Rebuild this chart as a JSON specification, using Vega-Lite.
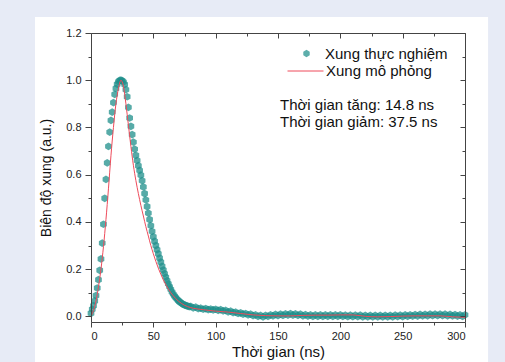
{
  "$schema": "https://vega.github.io/schema/vega-lite/v6.json",
  "width": 374,
  "height": 289,
  "autosize": {"type": "none"},
  "padding": {"left": 91, "top": 33, "right": 40, "bottom": 40},
  "background": "#e7ebf6",
  "config": {
    "view": {"stroke": null},
    "font": "Liberation Sans",
    "axis": {"grid": false, "domainColor": "#444", "tickColor": "#444", "labelColor": "#222", "labelFont": "Liberation Sans", "titleFont": "Liberation Sans", "titleColor": "#111", "titleFontWeight": "normal", "labelFontSize": 11}
  },
  "datasets": {
    "exp": [
      {"t":0,"v":0.013},{"t":1,"v":0.03},{"t":2,"v":0.045},{"t":3,"v":0.065},{"t":4,"v":0.088},{"t":5,"v":0.12},{"t":6,"v":0.155},{"t":7,"v":0.195},{"t":8,"v":0.243},{"t":9,"v":0.31},
      {"t":10,"v":0.39},{"t":11,"v":0.5},{"t":12,"v":0.58},{"t":13,"v":0.65},{"t":14,"v":0.72},{"t":15,"v":0.78},{"t":16,"v":0.83},{"t":17,"v":0.865},{"t":18,"v":0.905},{"t":19,"v":0.94},
      {"t":20,"v":0.965},{"t":21,"v":0.983},{"t":22,"v":0.994},{"t":23,"v":0.999},{"t":24,"v":1.0},{"t":25,"v":0.998},{"t":26,"v":0.993},{"t":27,"v":0.982},{"t":28,"v":0.96},{"t":29,"v":0.93},
      {"t":30,"v":0.885},{"t":31,"v":0.84},{"t":32,"v":0.805},{"t":33,"v":0.77},{"t":34,"v":0.738},{"t":35,"v":0.708},{"t":36,"v":0.682},{"t":37,"v":0.66},{"t":38,"v":0.638},{"t":39,"v":0.618},
      {"t":40,"v":0.598},{"t":41,"v":0.575},{"t":42,"v":0.548},{"t":43,"v":0.52},{"t":44,"v":0.493},{"t":45,"v":0.465},{"t":46,"v":0.437},{"t":47,"v":0.41},{"t":48,"v":0.384},{"t":49,"v":0.36},
      {"t":50,"v":0.337},{"t":51,"v":0.318},{"t":52,"v":0.3},{"t":53,"v":0.282},{"t":54,"v":0.265},{"t":55,"v":0.247},{"t":56,"v":0.23},{"t":57,"v":0.212},{"t":58,"v":0.196},{"t":59,"v":0.181},
      {"t":60,"v":0.166},{"t":61,"v":0.151},{"t":62,"v":0.138},{"t":63,"v":0.126},{"t":64,"v":0.114},{"t":65,"v":0.103},{"t":66,"v":0.094},{"t":67,"v":0.086},{"t":68,"v":0.079},{"t":69,"v":0.073},
      {"t":70,"v":0.067},{"t":71,"v":0.062},{"t":72,"v":0.058},{"t":73,"v":0.054},{"t":74,"v":0.051},{"t":75,"v":0.048},{"t":76,"v":0.046},{"t":77,"v":0.044},{"t":78,"v":0.042},{"t":79,"v":0.041},
      {"t":80,"v":0.042},{"t":82,"v":0.036},{"t":84,"v":0.039},{"t":86,"v":0.033},{"t":88,"v":0.035},{"t":90,"v":0.03},{"t":92,"v":0.033},{"t":94,"v":0.028},{"t":96,"v":0.031},{"t":98,"v":0.027},
      {"t":100,"v":0.03},{"t":102,"v":0.025},{"t":104,"v":0.028},{"t":106,"v":0.023},{"t":108,"v":0.025},{"t":110,"v":0.019},{"t":112,"v":0.022},{"t":114,"v":0.016},{"t":116,"v":0.018},{"t":118,"v":0.012},
      {"t":120,"v":0.015},{"t":122,"v":0.009},{"t":124,"v":0.012},{"t":126,"v":0.006},{"t":128,"v":0.009},{"t":130,"v":0.003},{"t":132,"v":0.006},{"t":134,"v":0.0},{"t":136,"v":0.004},{"t":138,"v":-0.002},
      {"t":140,"v":0.004},{"t":142,"v":0.0},{"t":144,"v":0.006},{"t":146,"v":0.002},{"t":148,"v":0.008},{"t":150,"v":0.003},{"t":152,"v":0.009},{"t":154,"v":0.004},{"t":156,"v":0.01},{"t":158,"v":0.005},
      {"t":160,"v":0.011},{"t":162,"v":0.005},{"t":164,"v":0.01},{"t":166,"v":0.004},{"t":168,"v":0.009},{"t":170,"v":0.002},{"t":172,"v":0.007},{"t":174,"v":0.001},{"t":176,"v":0.006},{"t":178,"v":0.0},
      {"t":180,"v":0.006},{"t":182,"v":0.0},{"t":184,"v":0.006},{"t":186,"v":0.0},{"t":188,"v":0.006},{"t":190,"v":0.0},{"t":192,"v":0.006},{"t":194,"v":0.0},{"t":196,"v":0.006},{"t":198,"v":0.0},
      {"t":200,"v":0.006},{"t":202,"v":0.0},{"t":204,"v":0.005},{"t":206,"v":-0.001},{"t":208,"v":0.005},{"t":210,"v":-0.001},{"t":212,"v":0.005},{"t":214,"v":-0.001},{"t":216,"v":0.005},{"t":218,"v":-0.002},
      {"t":220,"v":0.004},{"t":222,"v":-0.002},{"t":224,"v":0.004},{"t":226,"v":-0.002},{"t":228,"v":0.004},{"t":230,"v":-0.002},{"t":232,"v":0.004},{"t":234,"v":-0.002},{"t":236,"v":0.004},{"t":238,"v":-0.002},
      {"t":240,"v":0.004},{"t":242,"v":-0.002},{"t":244,"v":0.005},{"t":246,"v":-0.001},{"t":248,"v":0.005},{"t":250,"v":-0.001},{"t":252,"v":0.006},{"t":254,"v":0.0},{"t":256,"v":0.006},{"t":258,"v":0.001},
      {"t":260,"v":0.007},{"t":262,"v":0.001},{"t":264,"v":0.008},{"t":266,"v":0.002},{"t":268,"v":0.008},{"t":270,"v":0.002},{"t":272,"v":0.009},{"t":274,"v":0.003},{"t":276,"v":0.009},{"t":278,"v":0.003},
      {"t":280,"v":0.009},{"t":282,"v":0.003},{"t":284,"v":0.009},{"t":286,"v":0.002},{"t":288,"v":0.008},{"t":290,"v":0.002},{"t":292,"v":0.007},{"t":294,"v":0.001},{"t":296,"v":0.006},{"t":298,"v":0.0},
      {"t":300,"v":0.006}
    ],
    "sim": [
      {"t":0,"v":0.0},{"t":2,"v":0.025},{"t":4,"v":0.065},{"t":6,"v":0.125},{"t":8,"v":0.2},{"t":10,"v":0.295},{"t":12,"v":0.41},{"t":14,"v":0.54},{"t":16,"v":0.68},{"t":18,"v":0.8},
      {"t":20,"v":0.9},{"t":22,"v":0.965},{"t":24,"v":1.0},{"t":26,"v":0.975},{"t":28,"v":0.9},{"t":30,"v":0.81},{"t":32,"v":0.72},{"t":34,"v":0.64},{"t":36,"v":0.575},{"t":38,"v":0.52},
      {"t":40,"v":0.47},{"t":42,"v":0.425},{"t":44,"v":0.38},{"t":46,"v":0.34},{"t":48,"v":0.3},{"t":50,"v":0.265},{"t":52,"v":0.233},{"t":54,"v":0.204},{"t":56,"v":0.178},{"t":58,"v":0.155},
      {"t":60,"v":0.134},{"t":62,"v":0.116},{"t":64,"v":0.1},{"t":66,"v":0.087},{"t":68,"v":0.075},{"t":70,"v":0.065},{"t":75,"v":0.047},{"t":80,"v":0.037},{"t":90,"v":0.028},{"t":100,"v":0.022},
      {"t":110,"v":0.018},{"t":120,"v":0.012},{"t":130,"v":0.006},{"t":140,"v":0.003},{"t":150,"v":0.002},{"t":160,"v":0.002},{"t":170,"v":0.004},{"t":180,"v":0.005},{"t":190,"v":0.005},{"t":200,"v":0.006},
      {"t":210,"v":0.006},{"t":220,"v":0.0},{"t":230,"v":-0.002},{"t":240,"v":-0.001},{"t":250,"v":0.001},{"t":260,"v":0.002},{"t":270,"v":0.002},{"t":280,"v":0.002},{"t":290,"v":-0.002},{"t":300,"v":-0.004}
    ]
  },
  "resolve": {"axis": {"x": "independent", "y": "independent"}},
  "layer": [
    {
      "data": {"values": [{}]},
      "mark": {"type": "rect", "fill": "#ffffff", "clip": false},
      "encoding": {
        "x": {"datum": -44.9, "type": "quantitative", "scale": {"domain": [0, 300], "nice": false, "zero": false}, "axis": null},
        "x2": {"datum": 318.5},
        "y": {"datum": -0.2, "type": "quantitative", "scale": {"domain": [-0.024, 1.2], "nice": false, "zero": false}, "axis": null},
        "y2": {"datum": 1.268}
      }
    },
    {
      "data": {"name": "exp"},
      "mark": {"type": "point", "filled": true, "size": 60, "color": "#1f8f8b", "opacity": 0.75, "strokeWidth": 0},
      "encoding": {
        "x": {"field": "t", "type": "quantitative",
          "axis": {"orient": "bottom", "zindex": 1, "title": "Thời gian (ns)", "titleFontSize": 15, "titlePadding": 3,
            "values": [0,25,50,75,100,125,150,175,200,225,250,275,300],
            "labelExpr": "datum.value % 50 == 0 ? datum.label : ''",
            "tickSize": {"condition": {"test": "datum.value % 50 == 0", "value": 5}, "value": 3},
            "labelPadding": 3}},
        "y": {"field": "v", "type": "quantitative",
          "axis": {"orient": "left", "zindex": 1, "title": "Biên độ xung (a.u.)", "titleFontSize": 14, "titlePadding": 12,
            "values": [0,0.1,0.2,0.3,0.4,0.5,0.6,0.7,0.8,0.9,1.0,1.1,1.2],
            "labelExpr": "round(datum.value*10) % 2 == 0 ? format(datum.value, '.1f') : ''",
            "tickSize": {"condition": {"test": "round(datum.value*10) % 2 == 0", "value": 6}, "value": 3},
            "labelPadding": 4}},
        "shape": {"datum": "Xung thực nghiệm", "type": "nominal",
          "scale": {"range": ["M0,-1L0.866,-0.5L0.866,0.5L0,1L-0.866,0.5L-0.866,-0.5Z"]},
          "legend": {"orient": "none", "legendX": 208, "legendY": 13, "title": null, "padding": 0,
            "labelFontSize": 15, "labelFont": "Liberation Sans", "labelColor": "#111", "labelOffset": 11,
            "symbolSize": 55, "symbolFillColor": "#1f8f8b", "symbolOpacity": 0.72, "symbolStrokeWidth": 0}}
      }
    },
    {
      "data": {"name": "sim"},
      "mark": {"type": "line", "strokeWidth": 1, "interpolate": "monotone"},
      "encoding": {
        "x": {"field": "t", "type": "quantitative",
          "axis": {"orient": "top", "zindex": 1, "title": null, "labels": false,
            "values": [0,25,50,75,100,125,150,175,200,225,250,275,300],
            "tickSize": {"condition": {"test": "datum.value % 50 == 0", "value": -5}, "value": -3}}},
        "y": {"field": "v", "type": "quantitative",
          "axis": {"orient": "right", "zindex": 1, "title": null, "labels": false,
            "values": [0,0.1,0.2,0.3,0.4,0.5,0.6,0.7,0.8,0.9,1.0,1.1,1.2],
            "tickSize": {"condition": {"test": "round(datum.value*10) % 2 == 0", "value": -5}, "value": -3}}},
        "color": {"datum": "Xung mô phỏng", "type": "nominal",
          "scale": {"range": ["#ee4b5b"]},
          "legend": {"orient": "none", "legendX": 196, "legendY": 19.5, "title": null, "padding": 0,
            "labelFontSize": 15, "labelFont": "Liberation Sans", "labelColor": "#111", "labelOffset": 2,
            "symbolType": "stroke", "symbolSize": 1296, "symbolStrokeWidth": 1}}
      }
    },
    {
      "data": {"values": [{"label": "Thời gian tăng: 14.8 ns"}]},
      "mark": {"type": "text", "align": "left", "baseline": "middle", "fontSize": 15, "font": "Liberation Sans", "color": "#111"},
      "encoding": {
        "x": {"datum": 151.6, "type": "quantitative", "axis": null},
        "y": {"datum": 0.897, "type": "quantitative", "axis": null},
        "text": {"field": "label"}
      }
    },
    {
      "data": {"values": [{"label": "Thời gian giảm: 37.5 ns"}]},
      "mark": {"type": "text", "align": "left", "baseline": "middle", "fontSize": 15, "font": "Liberation Sans", "color": "#111"},
      "encoding": {
        "x": {"datum": 151.6, "type": "quantitative", "axis": null},
        "y": {"datum": 0.823, "type": "quantitative", "axis": null},
        "text": {"field": "label"}
      }
    }
  ]
}
